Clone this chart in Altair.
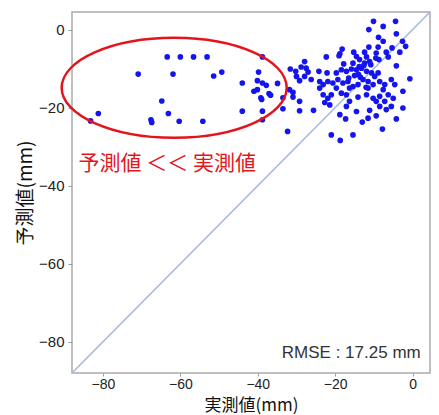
import altair as alt
import pandas as pd

# measured (x) and predicted (y) values, mm
actual = [
    -63.4, -60.0, -56.6, -53.1, -70.9, -61.9, -51.4, -49.3, -64.8, -81.2, -83.2, -67.6, -67.4, -63.1, -60.3, -54.2,
    -44.0, -38.8, -39.8, -40.1, -38.8, -37.8, -34.9, -41.0, -40.1, -37.1, -36.7, -39.2, -39.0, -33.5, -44.0, -38.8,
    -33.5, -38.8, -32.3,
    -10.1, -4.4, -7.6, -11.3, -4.2, -8.8, -7.6, -2.6,
    -1.8, -11.3, -8.9, -18.2, -5.3, -6.8, -9.4, -12.4, -3.3, -15.2, -18.8,
    -22.3, -19.0, -14.5, -11.9, -9.5, -13.7, -11.1, -8.7, -6.3, -4.2, -27.9, -15.4, -12.4,
    -31.6, -30.2, -28.8, -27.5, -27.0, -24.2, -22.1, -18.4, -17.1, -15.8, -14.5, -13.2, -11.9, -10.6, -8.9, -19.7,
    -0.7, -30.0, -27.9,
    -31.8, -29.2, -26.2, -24.0, -23.1, -21.9, -20.6, -19.3, -18.0, -16.7, -15.4, -14.1, -12.8, -11.5, -10.2, -8.5,
    -7.2, -5.5, -4.6, -24.0, -19.7, -16.3, -11.5, -7.6, -2.5, -30.9,
    -30.9, -29.2, -23.1, -21.9, -21.0, -18.4, -17.1, -14.1, -11.9, -10.2, -8.5, -6.3, -5.0, -9.4, -7.2, -22.7, -16.3,
    -29.2, -25.6, -18.8, -17.3, -14.5, -13.0, -11.5, -11.1, -5.5, -2.5, -8.5, -6.8, -21.4, -17.1,
    -21.0, -18.7, -15.4, -7.8, -4.2, -9.4,
    -14.0, -12.6, -13.5, -15.0, -10.8, -16.5, -12.0, -13.8, -9.8, -17.8,
]
predicted = [
    -7.0, -7.0, -7.0, -7.0, -11.4, -11.4, -11.9, -10.9, -18.3, -21.5, -23.4, -23.1, -23.8, -21.5, -23.5, -23.5,
    -13.7, -7.0, -10.9, -13.1, -13.7, -14.3, -13.8, -15.8, -15.4, -16.4, -16.8, -17.5, -17.9, -17.5, -20.9, -20.9,
    -20.3, -23.1, -26.1,
    2.1, 2.1, 0.8, 0.0, -1.1, -2.0, -3.0, -3.0,
    -4.3, -4.5, -4.5, -5.0, -4.7, -5.8, -6.0, -5.8, -5.8, -5.8, -6.2,
    -7.0, -6.7, -6.9, -7.0, -7.3, -7.7, -8.2, -7.7, -7.0, -9.3, -8.2, -8.6, -8.6,
    -10.1, -10.7, -9.6, -9.9, -10.9, -10.7, -11.1, -10.3, -10.7, -10.1, -10.3, -9.9, -10.7, -11.1, -11.1, -11.1,
    -12.6, -12.0, -12.0,
    -15.4, -13.1, -12.8, -13.3, -14.1, -13.3, -13.7, -12.8, -13.7, -13.3, -14.6, -14.1, -12.8, -13.3, -14.1, -13.3,
    -14.1, -12.8, -14.1, -15.0, -15.0, -15.0, -15.0, -15.4, -15.8, -16.1,
    -17.3, -18.4, -16.7, -17.6, -16.7, -16.3, -16.7, -17.3, -16.7, -17.6, -17.1, -16.7, -17.6, -18.4, -18.4, -18.7, -18.4,
    -20.8, -20.7, -21.8, -22.9, -21.0, -23.7, -22.7, -20.7, -19.7, -20.1, -19.7, -20.5, -19.3, -19.7,
    -27.0, -28.4, -27.0, -25.5, -22.9, -22.1,
    -11.5, -9.2, -12.2, -11.8, -9.0, -12.4, -14.8, -9.5, -12.0, -8.8,
]

diag_x = [-88, 4.5]
diag_y = [-88, 4.5]

ellipse_x = [-61.6]
ellipse_y = [-14.9]
note_text = ["予測値 ＜＜ 実測値"]
note_x = [-86.3]
note_y = [-34.4]
rmse_text = ["RMSE : 17.25 mm"]
rmse_x = [2.1]
rmse_y = [-82.8]

pts = pd.DataFrame({"actual": actual, "predicted": predicted})
diag = pd.DataFrame({"x": diag_x, "y": diag_y})
ell = pd.DataFrame({"x": ellipse_x, "y": ellipse_y})
note = pd.DataFrame({"x": note_x, "y": note_y, "t": note_text})
rmse = pd.DataFrame({"x": rmse_x, "y": rmse_y, "t": rmse_text})

xs = alt.Scale(domain=[-88, 4.5], nice=False, zero=False)
ys = alt.Scale(domain=[-88, 4.5], nice=False, zero=False)

xaxis = alt.Axis(title="実測値(mm)", values=[-80, -60, -40, -20, 0], grid=False, domain=False,
                 tickSize=3, tickColor="#999999", labelPadding=1,
                 labelFont="Liberation Sans", labelFontSize=14, labelColor="#222222",
                 titleFont="Noto Sans CJK JP", titleFontSize=17, titleFontWeight="normal",
                 titleColor="#111111", titleBaseline="alphabetic", titleY=37)
yaxis = alt.Axis(title="予測値(mm)", values=[-80, -60, -40, -20, 0], grid=False, domain=False,
                 tickSize=4, tickColor="#999999", labelPadding=4,
                 labelFont="Liberation Sans", labelFontSize=15, labelColor="#222222",
                 titleFont="Noto Sans CJK JP", titleFontSize=19, titleFontWeight="normal",
                 titleColor="#111111", titlePadding=3)

line = alt.Chart(diag).mark_line(color="#a3b6dc", strokeWidth=1.5).encode(
    x=alt.X("x:Q", scale=xs, axis=xaxis),
    y=alt.Y("y:Q", scale=ys, axis=yaxis),
)

points = alt.Chart(pts).mark_circle(color="#1414ee", size=32, opacity=1).encode(
    x=alt.X("actual:Q", scale=xs),
    y=alt.Y("predicted:Q", scale=ys),
)

ellipse_path = ("M 1 0 C 1 0.2455 0.5523 0.4444 0 0.4444 C -0.5523 0.4444 -1 0.2455 -1 0 "
                "C -1 -0.2455 -0.5523 -0.4444 0 -0.4444 C 0.5523 -0.4444 1 -0.2455 1 0 Z")
ellipse = alt.Chart(ell).mark_point(shape=ellipse_path, size=50625, filled=False,
                                    stroke="#e3141c", strokeWidth=2.5, opacity=1).encode(
    x=alt.X("x:Q", scale=xs),
    y=alt.Y("y:Q", scale=ys),
)

note_mark = alt.Chart(note).mark_text(align="left", baseline="middle", font="Noto Sans CJK JP",
                                      fontSize=21, color="#e3141c").encode(
    x=alt.X("x:Q", scale=xs), y=alt.Y("y:Q", scale=ys), text="t:N")

rmse_mark = alt.Chart(rmse).mark_text(align="right", baseline="middle", font="Liberation Sans",
                                      fontSize=17, color="#333333").encode(
    x=alt.X("x:Q", scale=xs), y=alt.Y("y:Q", scale=ys), text="t:N")

chart = alt.layer(line, points, ellipse, note_mark, rmse_mark).properties(
    width=358, height=361,
    autosize=alt.AutoSizeParams(type="none"),
    padding={"left": 72, "top": 12, "right": 9, "bottom": 42},
    background="white",
).configure_view(stroke="#aaaaaa", strokeWidth=1.5)

chart.save("out.html", embed_options={"renderer": "svg", "actions": False})
